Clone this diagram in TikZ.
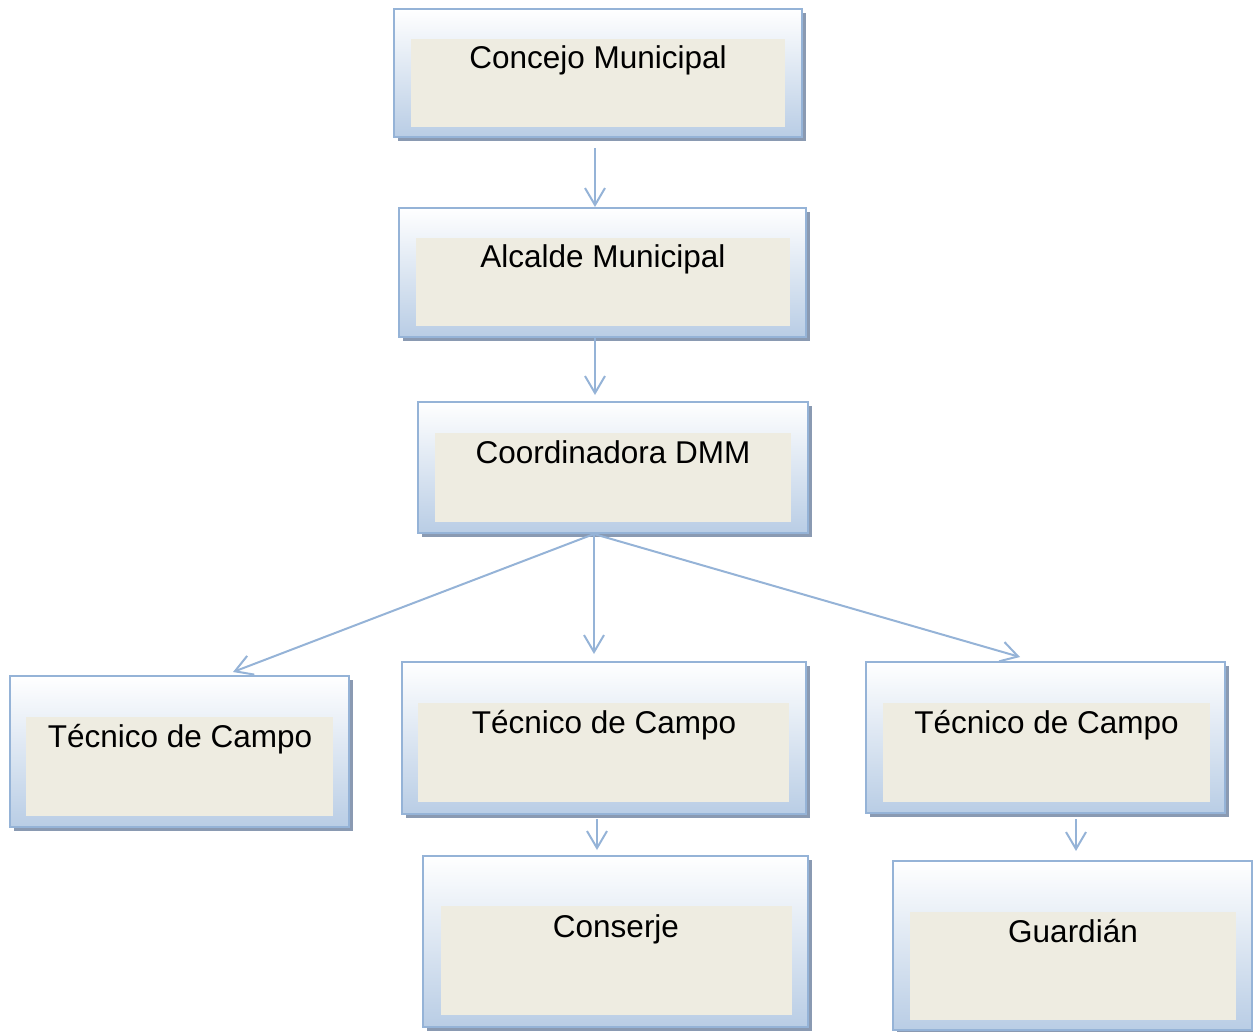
\documentclass[tikz,border=0pt]{standalone}
\usepackage{fontspec}
\setmainfont{Liberation Sans}
\usetikzlibrary{arrows.meta,shadows}
\definecolor{framec}{RGB}{149,179,215}
\definecolor{gradc}{RGB}{185,205,229}
\definecolor{shadowc}{RGB}{138,154,178}
\definecolor{innerc}{RGB}{238,236,225}
\tikzset{
  frame/.style={draw=framec, line width=2pt, top color=white, bottom color=gradc,
    drop shadow={shadow xshift=3.5pt, shadow yshift=-3.5pt, fill=shadowc, opacity=1}},
  inner/.style={fill=innerc},
  lbl/.style={anchor=base, font=\fontsize{31.5}{38}\selectfont},
  conn/.style={draw=framec, line width=2pt, -{Straight Barb[length=17pt,width=20pt]}}
}

\begin{document}
\begin{tikzpicture}[x=1pt, y=-1pt]
\useasboundingbox (0,0) rectangle (1253,1031);
% Boxes
    \node[frame, minimum width=408pt, minimum height=128pt] (concejo) at (598,73) {};
    \fill[inner] (411,39) rectangle (785,127);
    \node[lbl] (tconcejo) at (598,68) {Concejo Municipal};

    \node[frame, minimum width=407pt, minimum height=129pt] (alcalde) at (602.5,272.5) {};
    \fill[inner] (416,238) rectangle (790,326);
    \node[lbl] (talcalde) at (603,267) {Alcalde Municipal};

    \node[frame, minimum width=390pt, minimum height=131pt] (coord) at (613,467.5) {};
    \fill[inner] (435,433) rectangle (791,522);
    \node[lbl] (tcoord) at (613,463) {Coordinadora DMM};

    \node[frame, minimum width=339pt, minimum height=151pt] (tecA) at (179.5,751.5) {};
    \fill[inner] (26,717) rectangle (333,816);
    \node[lbl] (ttecA) at (180,747) {Técnico de Campo};

    \node[frame, minimum width=404pt, minimum height=152pt] (tecB) at (604,738) {};
    \fill[inner] (418,703) rectangle (789,802);
    \node[lbl] (ttecB) at (604,733) {Técnico de Campo};

    \node[frame, minimum width=359pt, minimum height=151pt] (tecC) at (1045.5,737.5) {};
    \fill[inner] (883,703) rectangle (1210,802);
    \node[lbl] (ttecC) at (1046.5,733) {Técnico de Campo};

    \node[frame, minimum width=385pt, minimum height=171pt] (conserje) at (615.5,941.5) {};
    \fill[inner] (441,906) rectangle (792,1015);
    \node[lbl] (tconserje) at (616,937) {Conserje};

    \node[frame, minimum width=359pt, minimum height=169pt] (guardian) at (1072.5,945.5) {};
    \fill[inner] (910,912) rectangle (1236,1020);
    \node[lbl] (tguardian) at (1073,942) {Guardián};
% Arrows
    \draw[conn] ([xshift=-3pt,yshift=-10pt]concejo.south) -- ([xshift=-7.5pt]alcalde.north);
    \draw[conn] ([xshift=-7.5pt]alcalde.south) -- ([xshift=-18pt,yshift=6pt]coord.north);
    \draw[conn] ([xshift=-19pt]coord.south) -- ([xshift=53.5pt,yshift=3pt]tecA.north);
    \draw[conn] ([xshift=-19pt]coord.south) -- ([xshift=-10pt,yshift=7pt]tecB.north);
    \draw[conn] ([xshift=-19pt]coord.south) -- ([xshift=-25.5pt,yshift=4pt]tecC.north);
    \draw[conn] ([xshift=-7pt,yshift=-4pt]tecB.south) -- ([xshift=-18.5pt,yshift=5pt]conserje.north);
    \draw[conn] ([xshift=30.5pt,yshift=-5pt]tecC.south) -- ([xshift=3.5pt,yshift=9pt]guardian.north);
\end{tikzpicture}
\end{document}
